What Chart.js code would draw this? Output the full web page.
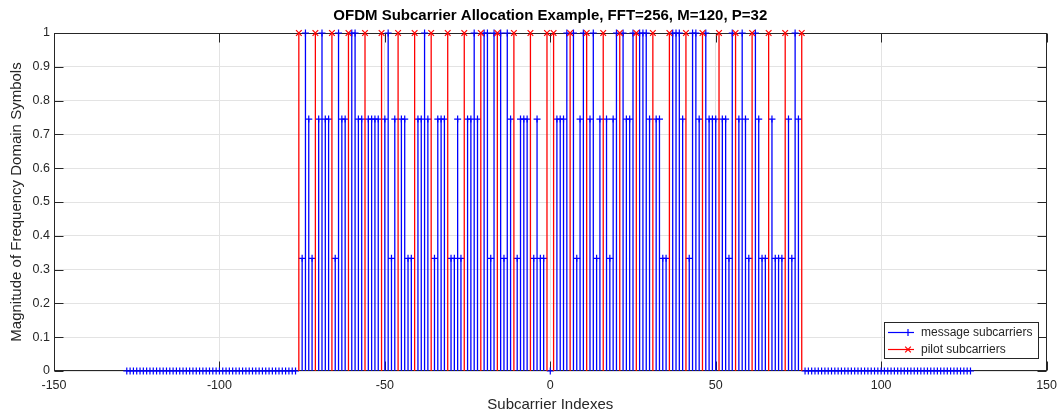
<!DOCTYPE html>
<html>
<head>
<meta charset="utf-8">
<title>OFDM Subcarrier Allocation</title>
<script src="https://cdn.jsdelivr.net/npm/chart.js@4.4.0/dist/chart.umd.min.js"></script>
<style>
  html, body { margin: 0; padding: 0; background: #fff; }
  #wrap { width: 1064px; height: 414px; }
</style>
</head>
<body>
<div id="wrap"><canvas id="ofdmChart" width="1064" height="414"></canvas></div>
<script>
// Labels
const chartTitle = 'OFDM Subcarrier Allocation Example, FFT=256, M=120, P=32';
const xLabel = 'Subcarrier Indexes';
const yLabel = 'Magnitude of Frequency Domain Symbols';
const legendLabels = ['message subcarriers', 'pilot subcarriers'];

// Axis ticks
const xTicks = [-150, -100, -50, 0, 50, 100, 150];
const yTicks = [0, 0.1, 0.2, 0.3, 0.4, 0.5, 0.6, 0.7, 0.8, 0.9, 1];

// Unused subcarriers (guard bands + DC), magnitude 0
const nullIdx = [
  -128, -127, -126, -125, -124, -123, -122, -121, -120, -119, -118, -117, -116,
  -115, -114, -113, -112, -111, -110, -109, -108, -107, -106, -105, -104, -103,
  -102, -101, -100, -99, -98, -97, -96, -95, -94, -93, -92, -91, -90, -89, -88,
  -87, -86, -85, -84, -83, -82, -81, -80, -79, -78, -77,
  0,
  77, 78, 79, 80, 81, 82, 83, 84, 85, 86, 87, 88, 89, 90, 91, 92, 93, 94, 95,
  96, 97, 98, 99, 100, 101, 102, 103, 104, 105, 106, 107, 108, 109, 110, 111,
  112, 113, 114, 115, 116, 117, 118, 119, 120, 121, 122, 123, 124, 125, 126, 127
];
const nullMag = [
  0, 0, 0, 0, 0, 0, 0, 0, 0, 0, 0, 0, 0, 0, 0, 0, 0, 0, 0, 0, 0, 0, 0, 0, 0, 0,
  0, 0, 0, 0, 0, 0, 0, 0, 0, 0, 0, 0, 0, 0, 0, 0, 0, 0, 0, 0, 0, 0, 0, 0, 0, 0,
  0,
  0, 0, 0, 0, 0, 0, 0, 0, 0, 0, 0, 0, 0, 0, 0, 0, 0, 0, 0, 0, 0, 0, 0, 0, 0, 0,
  0, 0, 0, 0, 0, 0, 0, 0, 0, 0, 0, 0, 0, 0, 0, 0, 0, 0, 0, 0, 0, 0, 0, 0, 0
];

// Message subcarriers (M=120)
const msgIdx = [
  -75, -74, -73, -72,  -70, -69, -68, -67,  -65, -64, -63, -62,  -60, -59, -58, -57,
  -55, -54, -53, -52,  -50, -49, -48, -47,  -45, -44, -43, -42,  -40, -39, -38, -37,
  -35, -34, -33, -32,  -30, -29, -28, -27,  -25, -24, -23, -22,  -20, -19, -18, -17,
  -15, -14, -13, -12,  -10, -9, -8, -7,     -5, -4, -3, -2,
  2, 3, 4, 5,          7, 8, 9, 10,         12, 13, 14, 15,      17, 18, 19, 20,
  22, 23, 24, 25,      27, 28, 29, 30,      32, 33, 34, 35,      37, 38, 39, 40,
  42, 43, 44, 45,      47, 48, 49, 50,      52, 53, 54, 55,      57, 58, 59, 60,
  62, 63, 64, 65,      67, 68, 69, 70,      72, 73, 74, 75
];
const msgMag = [
  0.3333, 1, 0.7454, 0.3333,  0.7454, 1, 0.7454, 0.7454,  0.3333, 1, 0.7454, 0.7454,  1, 1, 0.7454, 0.7454,
  0.7454, 0.7454, 0.7454, 0.7454,  0.7454, 1, 0.3333, 0.7454,  0.7454, 0.7454, 0.3333, 0.3333,  0.7454, 0.7454, 1, 0.7454,
  0.3333, 0.7454, 0.7454, 0.7454,  0.3333, 0.3333, 0.7454, 0.3333,  0.7454, 0.7454, 1, 0.7454,  1, 1, 0.3333, 1,
  1, 0.3333, 1, 0.7454,  0.3333, 0.7454, 0.7454, 0.7454,  0.3333, 0.7454, 0.3333, 0.3333,
  0.7454, 0.7454, 0.7454, 1,  1, 0.3333, 0.7454, 1,  0.7454, 1, 0.3333, 0.7454,  0.7454, 0.3333, 0.7454, 1,
  1, 0.7454, 0.7454, 1,  1, 1, 1, 0.7454,  0.7454, 0.7454, 0.3333, 0.3333,  1, 1, 1, 0.7454,
  0.3333, 1, 1, 0.7454,  1, 0.7454, 0.7454, 0.7454,  0.7454, 0.7454, 0.3333, 1,  0.7454, 1, 0.7454, 0.3333,
  1, 0.7454, 0.3333, 0.3333,  0.7454, 0.3333, 0.3333, 0.3333,  0.7454, 0.3333, 1, 0.7454
];

// Pilot subcarriers (P=32)
const pilotIdx = [
  -76, -71, -66, -61, -56, -51, -46, -41, -36, -31, -26, -21, -16, -11, -6, -1,
  1, 6, 11, 16, 21, 26, 31, 36, 41, 46, 51, 56, 61, 66, 71, 76
];
const pilotMag = [
  1, 1, 1, 1, 1, 1, 1, 1, 1, 1, 1, 1, 1, 1, 1, 1,
  1, 1, 1, 1, 1, 1, 1, 1, 1, 1, 1, 1, 1, 1, 1, 1
];

const msgColor = '#0000ff';
const pilotColor = '#ff0000';
const axisColor = '#262626';
const fontFamily = '"Liberation Sans", Arial, Helvetica, sans-serif';

// each stem is 0 -> value, then a null to break the line
function stemPoints(idx, mag) {
  const pts = [];
  idx.forEach((k, i) => {
    pts.push({ x: k, y: 0 }, { x: k, y: mag[i] }, { x: k, y: null });
  });
  return pts;
}

function markerPoints(idx, mag) {
  return idx.map((k, i) => ({ x: k, y: mag[i] }));
}

// MATLAB-like box, inward ticks, title and legend
const matlabAxes = {
  id: 'matlabAxes',
  beforeDatasetsDraw(chart) {
    const { ctx, chartArea: a, scales } = chart;
    const L = Math.round(a.left) + 0.5, R = Math.round(a.right) - 0.5;
    const T = Math.round(a.top) + 0.5, B = Math.round(a.bottom) - 0.5;
    ctx.save();
    ctx.strokeStyle = axisColor;
    ctx.lineWidth = 1;
    ctx.strokeRect(L, T, R - L, B - T);
    ctx.beginPath();
    xTicks.forEach(v => {
      const px = Math.round(scales.x.getPixelForValue(v)) + 0.5;
      ctx.moveTo(px, B); ctx.lineTo(px, B - 9);
      ctx.moveTo(px, T); ctx.lineTo(px, T + 9);
    });
    yTicks.forEach(v => {
      const py = Math.round(scales.y.getPixelForValue(v)) + 0.5;
      ctx.moveTo(L, py); ctx.lineTo(L + 9, py);
      ctx.moveTo(R, py); ctx.lineTo(R - 9, py);
    });
    ctx.stroke();
    ctx.restore();
  },
  afterDraw(chart) {
    const { ctx, chartArea: a } = chart;
    ctx.save();
    // title
    ctx.fillStyle = '#000';
    ctx.font = 'bold 15px ' + fontFamily;
    ctx.textAlign = 'center';
    ctx.textBaseline = 'middle';
    ctx.fillText(chartTitle, (a.left + a.right) / 2, 16);

    // legend box
    const bx = 884.5, by = 322.5, bw = 154, bh = 36;
    ctx.fillStyle = '#fff';
    ctx.fillRect(bx, by, bw, bh);
    ctx.strokeStyle = axisColor;
    ctx.lineWidth = 1;
    ctx.strokeRect(bx, by, bw, bh);
    const rows = [
      { y: 332.5, color: msgColor, style: 'cross' },
      { y: 349.5, color: pilotColor, style: 'crossRot' }
    ];
    ctx.font = '12px ' + fontFamily;
    ctx.textAlign = 'left';
    rows.forEach((r, i) => {
      ctx.strokeStyle = r.color;
      ctx.lineWidth = 1.2;
      ctx.beginPath();
      ctx.moveTo(888, r.y); ctx.lineTo(914, r.y);
      ctx.stroke();
      Chart.helpers.drawPoint(ctx, { pointStyle: r.style, radius: i === 0 ? 3.5 : 4, borderWidth: 1.2 }, 908, r.y);
      ctx.fillStyle = axisColor;
      ctx.fillText(legendLabels[i], 921, r.y);
    });
    ctx.restore();
  }
};

const ctx = document.getElementById('ofdmChart').getContext('2d');
new Chart(ctx, {
  type: 'scatter',
  data: {
    datasets: [
      {
        label: 'pilot markers',
        data: markerPoints(pilotIdx, pilotMag),
        pointStyle: 'crossRot',
        pointRadius: 4,
        borderColor: pilotColor,
        backgroundColor: pilotColor,
        borderWidth: 1.2,
        clip: false,
        order: 0
      },
      {
        label: 'pilot stems',
        data: stemPoints(pilotIdx, pilotMag),
        showLine: true,
        spanGaps: false,
        pointRadius: 0,
        borderColor: pilotColor,
        borderWidth: 1.3,
        order: 1
      },
      {
        label: 'message markers',
        data: markerPoints(msgIdx, msgMag).concat(markerPoints(nullIdx, nullMag)),
        pointStyle: 'cross',
        pointRadius: 3.5,
        borderColor: msgColor,
        backgroundColor: msgColor,
        borderWidth: 1.2,
        clip: false,
        order: 2
      },
      {
        label: 'message stems',
        data: stemPoints(msgIdx, msgMag),
        showLine: true,
        spanGaps: false,
        pointRadius: 0,
        borderColor: msgColor,
        borderWidth: 1.3,
        order: 3
      }
    ]
  },
  options: {
    responsive: false,
    animation: false,
    devicePixelRatio: 1,
    layout: { padding: { top: 33, right: 14, left: 0, bottom: 0 } },
    plugins: {
      legend: { display: false },
      title: { display: false },
      tooltip: { enabled: false }
    },
    scales: {
      x: {
        type: 'linear',
        min: -150,
        max: 150,
        afterBuildTicks: scale => { scale.ticks = xTicks.map(v => ({ value: v })); },
        afterFit: scale => { scale.height = 43; },
        grid: { color: '#e3e3e3', drawTicks: false },
        border: { display: false },
        ticks: {
          padding: 7,
          color: axisColor,
          font: { family: fontFamily, size: 12.5 },
          maxRotation: 0
        },
        title: {
          display: true,
          text: xLabel,
          color: axisColor,
          font: { family: fontFamily, size: 15 },
          padding: { top: 0, bottom: 0 }
        }
      },
      y: {
        type: 'linear',
        min: 0,
        max: 1,
        afterBuildTicks: scale => { scale.ticks = yTicks.map(v => ({ value: v })); },
        afterFit: scale => { scale.width = 54; },
        grid: { color: '#e3e3e3', drawTicks: false },
        border: { display: false },
        ticks: {
          padding: 4,
          color: axisColor,
          font: { family: fontFamily, size: 12.5 },
          callback: v => String(Math.round(v * 10) / 10)
        },
        title: {
          display: true,
          text: yLabel,
          color: axisColor,
          font: { family: fontFamily, size: 15 },
          padding: { top: 8, bottom: 0 }
        }
      }
    }
  },
  plugins: [matlabAxes]
});
</script>
</body>
</html>
